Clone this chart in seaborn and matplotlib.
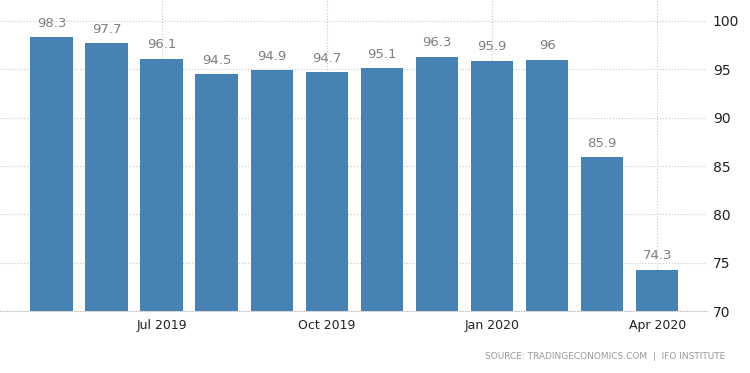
import matplotlib
matplotlib.use("Agg")
import matplotlib.pyplot as plt
import seaborn as sns

# ifo business climate, monthly
months = ["May 2019", "Jun 2019", "Jul 2019", "Aug 2019", "Sep 2019", "Oct 2019",
          "Nov 2019", "Dec 2019", "Jan 2020", "Feb 2020", "Mar 2020", "Apr 2020"]
values = [98.3, 97.7, 96.1, 94.5, 94.9, 94.7, 95.1, 96.3, 95.9, 96, 85.9, 74.3]
tick_labels = ["Jul 2019", "Oct 2019", "Jan 2020", "Apr 2020"]
y_ticks = [70, 75, 80, 85, 90, 95, 100]

sns.set_style("white")
plt.rcParams["font.family"] = ["DejaVu Sans"]

fig = plt.figure(figsize=(7.5, 3.73), dpi=100)
# axes run up to the top edge so the vertical grid reaches it too
ax = fig.add_axes([0.0, 0.166, 0.943, 0.834])

ax.set_axisbelow(True)
sns.barplot(x=months, y=values, color="#4682b4", saturation=1, width=0.77,
            linewidth=0, ax=ax)

for i, v in enumerate(values):
    ax.text(i, v + 1.45, f"{v:g}", ha="center", va="center", fontsize=9.5, color="#7f7f7f")

ax.set_ylim(70, 102.17)
ax.set_xlim(-0.935, 11.91)
ax.yaxis.tick_right()
ax.set_yticks(y_ticks)
ax.set_yticklabels([str(t) for t in y_ticks], fontsize=10, color="#222222")

tick_pos = [months.index(m) for m in tick_labels]
ax.set_xticks(tick_pos)
ax.set_xticklabels(tick_labels, fontsize=9, color="#222222")
ax.tick_params(axis="x", length=3, color="#cccccc", pad=3)
ax.tick_params(axis="y", length=0, pad=4)

ax.grid(True, axis="both", linestyle=":", color="#c8c8c8", linewidth=0.8)
for s in ["top", "left", "right"]:
    ax.spines[s].set_visible(False)
ax.spines["bottom"].set_linestyle(":")
ax.spines["bottom"].set_color("#c8c8c8")
ax.set_xlabel("")
ax.set_ylabel("")

fig.text(0.967, 0.045, "SOURCE: TRADINGECONOMICS.COM  |  IFO INSTITUTE",
         ha="right", va="center", fontsize=6.5, color="#999999")

fig.savefig("out.png", dpi=100)
